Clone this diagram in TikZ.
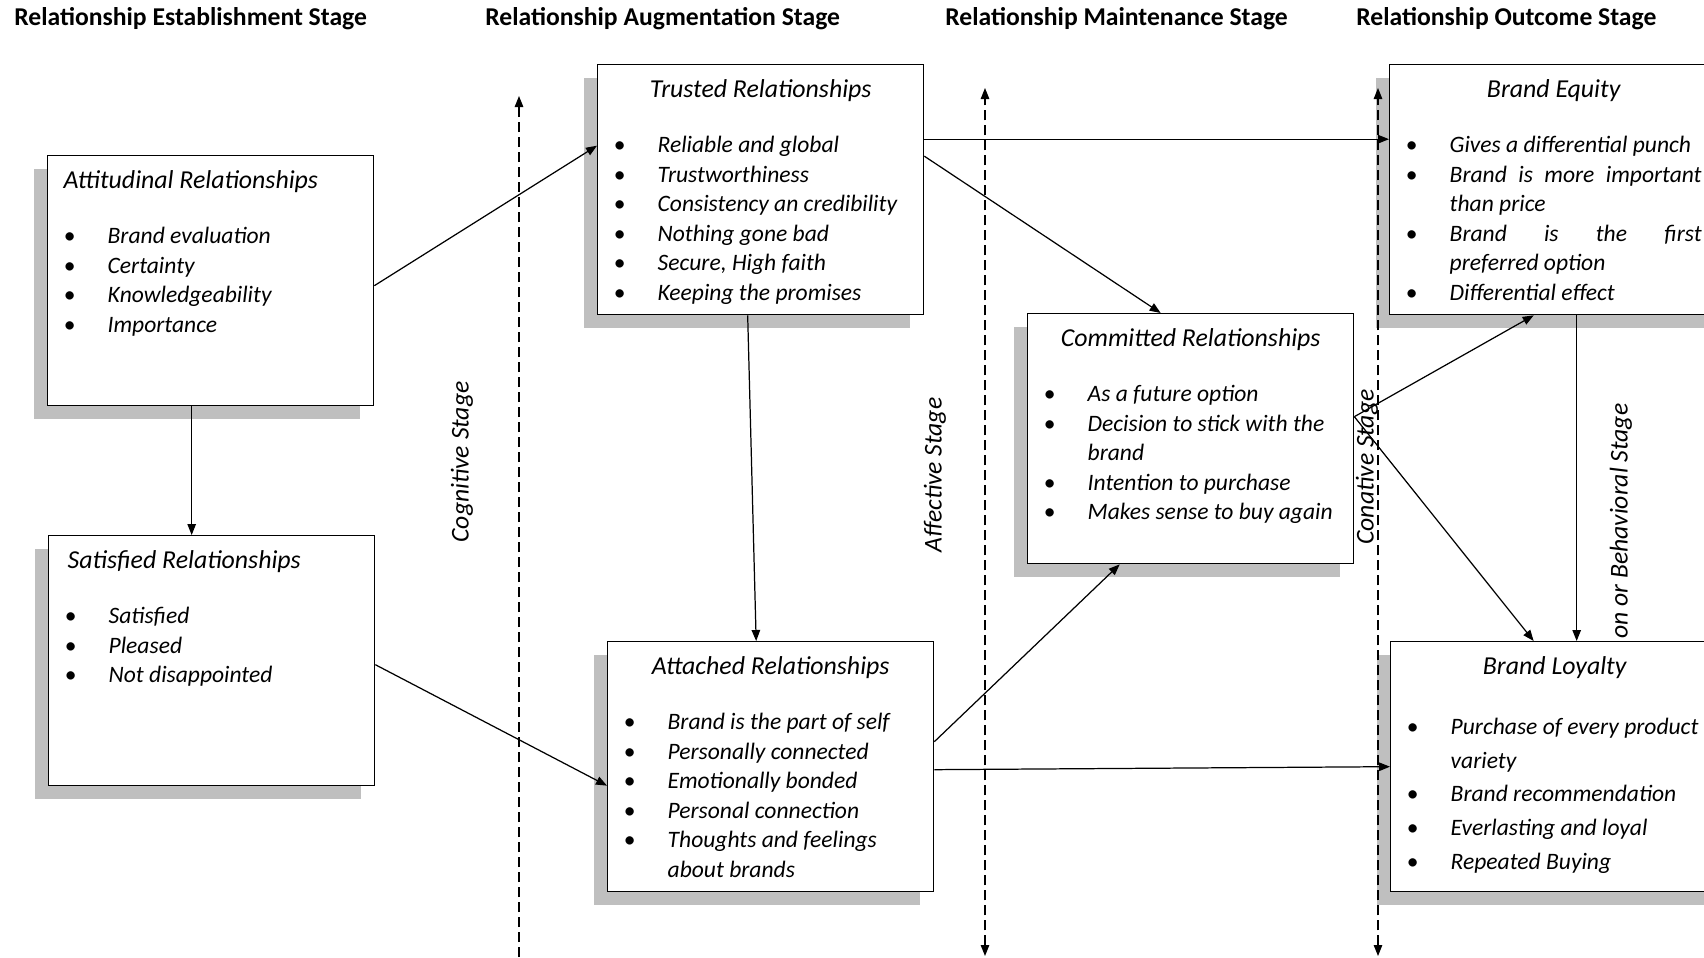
\documentclass[tikz,border=0pt]{standalone}
\usepackage{fontspec}
\setmainfont{Carlito}
\usetikzlibrary{arrows.meta,shadows}
\tikzset{tri/.tip={Triangle[length=.22cm,width=.17cm]},
rel/.style={draw,fill=white,line width=.8pt,anchor=north west,inner ysep=0pt,inner xsep=.32cm,
  font=\fontsize{13.4}{16.8}\selectfont\itshape,
  drop shadow={shadow xshift=-.28cm,shadow yshift=-.26cm,fill=black!25,opacity=1}},
arrow/.style={-tri,line width=.7pt},
axis/.style={line width=.7pt,dash pattern=on .2cm off .1cm},
head/.style={anchor=west,inner sep=0pt,font=\fontsize{14.6}{17}\selectfont\bfseries},
stagelab/.style={rotate=90,font=\fontsize{14.6}{17}\selectfont\itshape}}
\newcommand{\rtitle}[2][\centering]{{#1\fontsize{14.7}{17}\selectfont\rule{0pt}{.66cm}#2\par}\vspace{.51cm}}
\newcommand{\bitem}[1]{\par\hangindent=.88cm\hangafter=1\noindent\makebox[.88cm][l]{\textbullet}#1}
\begin{document}
\begin{tikzpicture}[x=.02cm,y=-.02cm]
\useasboundingbox (0,0) rectangle (1704,957);
% stage headings
\node[head] (h1) at (14,19) {Relationship Establishment Stage};
\node[head] (h2) at (485,19) {Relationship Augmentation Stage};
\node[head] (h3) at (945,19) {Relationship Maintenance Stage};
\node[head] (h4) at (1356,19) {Relationship Outcome Stage};

% relationship boxes
\node[rel] (att) at (47,155) {\parbox[t][5cm][t]{5.88cm}{\raggedright
\rtitle[]{Attitudinal Relationships}
\bitem{Brand evaluation}
\bitem{Certainty}
\bitem{Knowledgeability}
\bitem{Importance}}};
\node[rel] (sat) at (48,535) {\parbox[t][5cm][t]{5.88cm}{\raggedright
\rtitle[]{\hspace{.06cm}Satisfied Relationships}
\bitem{Satisfied}
\bitem{Pleased}
\bitem{Not disappointed}}};
\node[rel] (tru) at (597,64) {\parbox[t][5cm][t]{5.88cm}{\raggedright
\rtitle{Trusted Relationships}
\bitem{Reliable and global}
\bitem{Trustworthiness}
\bitem{Consistency an credibility}
\bitem{Nothing gone bad}
\bitem{Secure, High faith}
\bitem{Keeping the promises}}};
\node[rel] (atc) at (607,641) {\parbox[t][5cm][t]{5.88cm}{\raggedright
\rtitle{Attached Relationships}
\bitem{Brand is the part of self}
\bitem{Personally connected}
\bitem{Emotionally bonded}
\bitem{Personal connection}
\bitem{Thoughts and feelings\newline about brands}}};
\node[rel] (com) at (1027,313) {\parbox[t][5cm][t]{5.88cm}{\raggedright
\rtitle{Committed Relationships}
\bitem{As a future option}
\bitem{Decision to stick with the\newline brand}
\bitem{Intention to purchase}
\bitem{Makes sense to buy again}}};
\node[rel] (equ) at (1389,64) {\parbox[t][5cm][t]{5.92cm}{
\rtitle{Brand Equity}
\bitem{Gives a differential punch}
\bitem{Brand is more important\linebreak than price}
\bitem{Brand is the first\linebreak preferred option}
\bitem{Differential effect}}};
\node[rel] (loy) at (1390,641) {\parbox[t][5cm][t]{5.92cm}{\raggedright\fontsize{13.4}{19.3}\selectfont
\rtitle{Brand Loyalty}
\bitem{Purchase of every product\newline variety}
\bitem{Brand recommendation}
\bitem{Everlasting and loyal}
\bitem{Repeated Buying}}};

% stage axes
\coordinate (cogtop) at (519,96);
\coordinate (cogbot) at (519,957);
\coordinate (afftop) at (985,88);
\coordinate (affbot) at (985,956);
\coordinate (contop) at (1378,88);
\coordinate (conbot) at (1378,956);
\draw[axis,-tri] (cogbot) -- (cogtop);
\draw[axis,tri-tri] (affbot) -- (afftop);
\draw[axis,tri-tri] (conbot) -- (contop);

\node[stagelab] (cog) at (462,462) {Cognitive Stage};
\node[stagelab] (aff) at (935,475) {Affective Stage};
\node[stagelab] (con) at (1367,467) {Conative Stage};
\node[stagelab,anchor=west] (beh) at (1621,645) {on or Behavioral Stage};

% links
\draw[arrow] ([yshift=-.1cm]att.east) -- ([yshift=.88cm]tru.west);
\draw[arrow] ([xshift=-.38cm]att.south) -- ([xshift=-.38cm]att.south |- sat.north);
\draw[arrow] ([yshift=-.08cm]sat.east) -- ([yshift=-.38cm]atc.west);
\draw[arrow] ([xshift=-.26cm]tru.south) -- ([xshift=-.29cm]atc.north);
\draw[arrow] ([yshift=1.01cm]tru.east) -- ([yshift=1.01cm]tru.east -| equ.west);
\draw[arrow] ([yshift=.67cm]tru.east) -- ([xshift=-.6cm]com.north);
\draw[arrow] ([yshift=.5cm]atc.east) -- ([xshift=-1.42cm]com.south);
\draw[arrow] ([yshift=-.06cm]atc.east) -- (loy.west);
\draw[arrow] ([yshift=.44cm]com.east) -- ([xshift=-.4cm]equ.south);
\draw[arrow] ([yshift=.44cm]com.east) -- ([xshift=-.42cm]loy.north);
\draw[arrow] ([xshift=.46cm]equ.south) -- ([xshift=.46cm]equ.south |- loy.north);
\end{tikzpicture}
\end{document}
